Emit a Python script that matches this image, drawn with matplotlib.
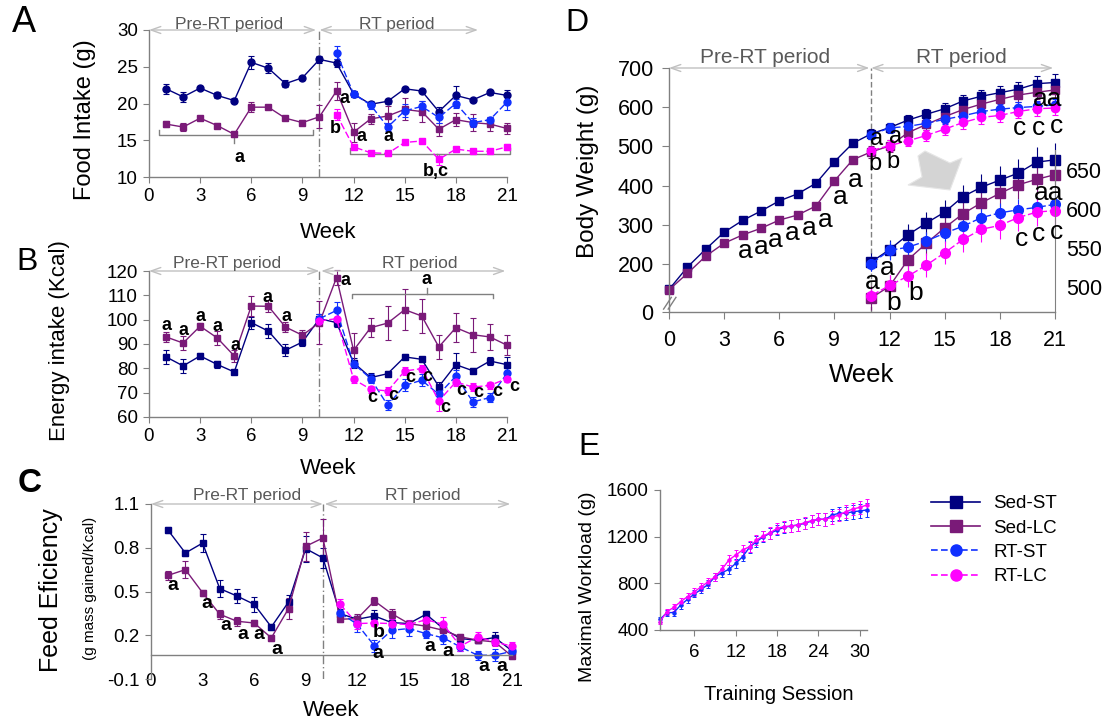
import numpy as np
import matplotlib
matplotlib.use("Agg")
import matplotlib.pyplot as plt
from matplotlib.lines import Line2D
from matplotlib.patches import Polygon

plt.rcParams['font.family'] = ['Liberation Sans', 'DejaVu Sans']

W, H = 1118, 723
NAVY, PURPLE, BLUE, MAGENTA = '#000080', '#7a1a78', '#1030ff', '#ff00ff'
GRID = '#808080'
DASH = (0, (5, 2))

# ---------------- data ----------------
weeks = np.arange(1, 22)
weeks_rt = np.arange(11, 22)
weeks_rt10 = np.arange(10, 22)

# A: food intake (g)
food_sed_st = [22.0, 20.9, 22.1, 21.1, 20.4, 25.6, 24.8, 22.7, 23.5, 26.0, 25.5,
               21.3, 19.9, 20.3, 22.0, 21.7, 18.9, 21.1, 20.5, 21.5, 21.1]
food_sed_st_err = [0.7, 0.7, 0.3, 0.4, 0.3, 0.9, 0.7, 0.5, 0.3, 0.5, 0.6,
                   0.4, 0.3, 0.3, 0.3, 0.3, 0.6, 1.3, 0.3, 0.4, 0.8]
food_sed_lc = [17.2, 16.8, 18.0, 17.0, 15.8, 19.5, 19.5, 18.0, 17.4, 18.2, 21.7,
               16.1, 17.9, 18.3, 19.2, 18.9, 16.5, 17.8, 17.4, 17.2, 16.6]
food_sed_lc_err = [0.4, 0.6, 0.3, 0.4, 0.3, 0.7, 0.3, 0.3, 0.3, 1.6, 1.2,
                   1.3, 0.7, 1.3, 1.5, 1.4, 0.9, 0.9, 1.2, 1.0, 0.8]
food_rt_st = [26.9, 21.3, 19.8, 16.8, 19.0, 19.6, 18.1, 20.0, 17.4, 17.8, 20.2]
food_rt_st_err = [0.9, 0.4, 0.5, 0.5, 0.9, 0.7, 0.8, 0.6, 0.6, 0.4, 1.1]
food_rt_lc = [18.5, 14.1, 13.3, 13.2, 14.7, 14.9, 12.4, 13.8, 13.5, 13.5, 14.1]
food_rt_lc_err = [0.8, 0.3, 0.3, 0.3, 0.3, 0.3, 0.7, 0.3, 0.3, 0.3, 0.4]

# B: energy intake (Kcal)
energy_sed_st = [84.7, 81.0, 85.1, 81.6, 78.5, 98.8, 95.3, 87.4, 90.8, 100.4, 98.8,
                 82.3, 76.2, 77.8, 84.7, 83.7, 72.5, 81.5, 79.0, 83.0, 81.5]
energy_sed_st_err = [3, 3, 1, 1.5, 1, 2.5, 3, 2.5, 1.5, 2, 2,
                     2, 2, 1, 1, 1, 2, 5, 1, 1.5, 3]
energy_sed_lc = [92.9, 90.4, 97.3, 92.5, 85.1, 105.6, 105.5, 97.0, 93.6, 98.8, 117.3,
                 87.4, 96.7, 98.6, 104.1, 101.5, 88.8, 96.7, 93.8, 92.9, 89.5]
energy_sed_lc_err = [2, 3, 1.5, 3, 2.5, 4, 2.5, 2, 2, 9, 3,
                     7, 4, 7, 8.5, 7, 5, 6, 7, 5.5, 4]
energy_rt_st = [100.4, 103.8, 81.9, 75.8, 64.8, 73.0, 75.1, 69.3, 76.8, 66.2, 68.0, 78.0]
energy_rt_st_err = [2, 3.5, 1.5, 2, 2, 2.5, 2.5, 2, 2.5, 2, 2, 2]
energy_rt_lc = [99.5, 100.4, 75.5, 71.4, 70.7, 78.9, 79.9, 66.6, 74.4, 72.3, 73.0, 75.8]
energy_rt_lc_err = [2, 3, 1.5, 1.5, 1.5, 1.5, 1.5, 4, 1.5, 1.5, 1.5, 1.5]

# C: feed efficiency (g mass gained/Kcal)
fe_sed_st = [0.919, 0.764, 0.832, 0.52, 0.469, 0.412, 0.257, 0.428, 0.794, 0.73, 0.348,
             0.31, 0.332, 0.287, 0.28, 0.344, 0.246, 0.177, 0.166, 0.184, 0.093]
fe_sed_st_err = [0.02, 0.02, 0.06, 0.06, 0.05, 0.05, 0.02, 0.05, 0.09, 0.07, 0.03,
                 0.02, 0.04, 0.03, 0.02, 0.02, 0.02, 0.02, 0.02, 0.04, 0.03]
fe_sed_lc = [0.611, 0.65, 0.492, 0.344, 0.296, 0.284, 0.182, 0.383, 0.81, 0.867, 0.31,
             0.314, 0.435, 0.348, 0.28, 0.262, 0.234, 0.189, 0.166, 0.154, 0.056]
fe_sed_lc_err = [0.03, 0.06, 0.02, 0.03, 0.03, 0.02, 0.02, 0.07, 0.1, 0.13, 0.02,
                 0.03, 0.03, 0.03, 0.02, 0.02, 0.03, 0.02, 0.02, 0.02, 0.02]
fe_rt_st = [0.353, 0.275, 0.127, 0.234, 0.246, 0.211, 0.182, 0.12, 0.063, 0.063, 0.09]
fe_rt_st_err = [0.04, 0.05, 0.04, 0.05, 0.05, 0.03, 0.04, 0.03, 0.03, 0.04, 0.03]
fe_rt_lc = [0.412, 0.28, 0.284, 0.28, 0.273, 0.307, 0.275, 0.125, 0.189, 0.154, 0.125]
fe_rt_lc_err = [0.04, 0.04, 0.02, 0.03, 0.03, 0.04, 0.05, 0.03, 0.03, 0.03, 0.03]

# D: body weight (g)
bw_weeks = np.arange(0, 22)
bw_sed_st = [135, 192, 238, 281, 311, 335, 361, 379, 406, 461, 508,
             532, 548, 567, 582, 596, 616, 628, 637, 646, 660, 663]
bw_sed_st_err = [5, 5, 5, 5, 5, 5, 5, 5, 5, 6, 6,
                 12, 12, 14, 14, 15, 15, 17, 18, 18, 20, 22]
bw_sed_lc = [134, 176, 220, 253, 274, 291, 312, 325, 348, 412, 466,
             486, 501, 535, 556, 576, 594, 608, 620, 631, 638, 644]
bw_sed_lc_err = [5, 5, 5, 5, 5, 5, 5, 5, 5, 8, 8,
                 15, 15, 15, 15, 15, 15, 17, 18, 18, 18, 20]
bw_rt_st = [530, 547, 551, 559, 569, 578, 589, 595, 599, 602, 606]
bw_rt_st_err = [10, 12, 12, 12, 12, 12, 13, 13, 14, 14, 15]
bw_rt_lc = [489, 502, 514, 528, 544, 561, 574, 579, 589, 596, 598]
bw_rt_lc_err = [10, 14, 14, 15, 15, 16, 16, 17, 17, 18, 18]

# E: maximal workload (g)
sessions = np.arange(1, 32)
work_rt_st = [491, 549, 549, 614, 663, 709, 749, 791, 857, 891, 920, 971, 1029, 1109, 1157, 1200,
              1229, 1257, 1280, 1291, 1300, 1314, 1334, 1349, 1349, 1386, 1400, 1400, 1414, 1420, 1429]
work_rt_st_err = [20, 25, 30, 30, 30, 30, 30, 35, 35, 35, 40, 40, 40, 45, 45, 45,
                  45, 45, 50, 50, 50, 50, 50, 50, 55, 55, 55, 55, 60, 60, 60]
work_rt_lc = [471, 557, 594, 643, 686, 729, 771, 814, 857, 920, 1000, 1043, 1086, 1114, 1171, 1206,
              1234, 1271, 1286, 1291, 1300, 1320, 1337, 1349, 1349, 1366, 1386, 1414, 1437, 1451, 1471]
work_rt_lc_err = [20, 25, 30, 30, 30, 35, 35, 35, 35, 40, 40, 40, 40, 45, 45, 45,
                  50, 50, 50, 50, 50, 50, 50, 50, 55, 55, 55, 55, 55, 55, 55]

groups = ['Sed-ST', 'Sed-LC', 'RT-ST', 'RT-LC']


# ---------------- helpers ----------------
def px_axes(l, t, r, b):
    return fig.add_axes([l / W, 1 - b / H, (r - l) / W, (b - t) / H])


def series(ax, x, y, err, color, marker, ls='-', ms=5, cap=2.0, elw=0.8):
    c = ax.errorbar(x, y, yerr=err, color=color, marker=marker, ms=ms, lw=1.0,
                    ls=ls, mec=color, mfc=color, capsize=cap, elinewidth=elw,
                    capthick=elw)
    for art in c.get_children():
        art.set_clip_on(False)


def style(ax, xlim, ylim, yticks, fs=13.5):
    ax.set_xlim(*xlim)
    ax.set_ylim(*ylim)
    ax.set_yticks(yticks)
    for s in ['top', 'right']:
        ax.spines[s].set_visible(False)
    for s in ['left', 'bottom']:
        ax.spines[s].set_color(GRID)
        ax.spines[s].set_linewidth(1.0)
    ax.tick_params(direction='out', length=4, color=GRID, labelsize=fs, pad=4)
    ax.patch.set_alpha(0)


def periods(ax, y, ytxt, pre, rt, fs=12.5):
    for (x0, x1, xt, txt) in (pre, rt):
        ax.annotate('', xy=(x1, y), xytext=(x0, y), annotation_clip=False,
                    arrowprops=dict(arrowstyle='<->,head_length=0.7,head_width=0.25',
                                    color='#c0c0c0', lw=1.0, shrinkA=0, shrinkB=0))
        ax.text(xt, ytxt, txt, ha='center', va='center', color='#595959', fontsize=fs)


def letters(ax, items, fs=13, weight='bold'):
    for (x, y, t) in items:
        ax.text(x, y, t, ha='center', va='center', fontsize=fs, fontweight=weight,
                clip_on=False)


def bracket(ax, x0, x1, y, yend, xm, ymid):
    ax.plot([x0, x0, x1, x1], [yend, y, y, yend], color=GRID, lw=1.0, clip_on=False)
    ax.plot([xm, xm], [y, ymid], color=GRID, lw=1.0, clip_on=False)


fig = plt.figure(figsize=(W / 100, H / 100), dpi=100)

# ---------------- A ----------------
axA = px_axes(149, 30, 507, 177)
style(axA, (0, 21), (10, 30), [10, 15, 20, 25, 30])
axA.set_xticks(range(0, 22, 3))
axA.axvline(10, color=GRID, lw=1.0, ls=(0, (6, 2, 1, 2)))
series(axA, weeks, food_sed_st, food_sed_st_err, NAVY, 'o')
series(axA, weeks, food_sed_lc, food_sed_lc_err, PURPLE, 's')
series(axA, weeks_rt, food_rt_st, food_rt_st_err, BLUE, 'o', DASH)
series(axA, weeks_rt, food_rt_lc, food_rt_lc_err, MAGENTA, 's', DASH)
periods(axA, 30, 30.8, (0, 9.8, 4.7, 'Pre-RT period'), (10, 19.3, 14.55, 'RT period'))
bracket(axA, 0.6, 9.6, 15.7, 16.4, 5.0, 14.6)
bracket(axA, 11.8, 21.2, 13.1, 13.9, 16.9, 12.3)
letters(axA, [(5.3, 12.7, 'a'), (16.8, 10.7, 'b,c'), (11.45, 20.7, 'a'), (10.95, 16.6, 'b'),
              (12.45, 15.5, 'a'), (14.05, 15.5, 'a')])

# ---------------- B ----------------
axB = px_axes(149, 271, 507, 417)
style(axB, (0, 21), (60, 120), range(60, 121, 10))
axB.set_xticks(range(0, 22, 3))
axB.axvline(10, color=GRID, lw=1.0, ls=(0, (6, 2, 1, 2)))
series(axB, weeks, energy_sed_st, energy_sed_st_err, NAVY, 's')
series(axB, weeks, energy_sed_lc, energy_sed_lc_err, PURPLE, 's')
series(axB, weeks_rt10, energy_rt_st, energy_rt_st_err, BLUE, 'o', DASH)
series(axB, weeks_rt10, energy_rt_lc, energy_rt_lc_err, MAGENTA, 'o', DASH)
periods(axB, 120, 122.9, (0, 10.0, 4.6, 'Pre-RT period'), (10.1, 20.9, 15.9, 'RT period'))
bracket(axB, 11.9, 20.2, 110.4, 109.0, 16.3, 113.2)
letters(axB, [(1.05, 97.7, 'a'), (2.05, 95.6, 'a'), (3.0, 101.1, 'a'), (4.0, 97.3, 'a'),
              (5.07, 89.5, 'a'), (6.98, 109.3, 'a'), (8.05, 101.1, 'a'), (11.5, 116.2, 'a'),
              (16.3, 116.4, 'a'),
              (13.1, 68.2, 'c'), (14.3, 68.9, 'c'), (15.3, 76.4, 'c'), (16.3, 76.7, 'c'),
              (17.4, 64.1, 'c'), (18.3, 71.0, 'c'), (19.3, 69.9, 'c'), (20.4, 70.3, 'c'),
              (21.4, 72.6, 'c')])

# ---------------- C ----------------
axC = px_axes(151, 504, 512, 679)
style(axC, (0, 21), (-0.1, 1.1), [-0.1, 0.2, 0.5, 0.8, 1.1])
axC.set_yticklabels(['-0.1', '0.2', '0.5', '0.8', '1.1'])
axC.set_xticks(range(0, 22, 3))
axC.spines['bottom'].set_position(('data', 0.063))
axC.tick_params(axis='x', length=0, pad=13)
axC.axvline(10, color=GRID, lw=1.0, ls=(0, (6, 2, 1, 2)))
series(axC, weeks, fe_sed_st, fe_sed_st_err, NAVY, 's')
series(axC, weeks, fe_sed_lc, fe_sed_lc_err, PURPLE, 's')
series(axC, weeks_rt, fe_rt_st, fe_rt_st_err, BLUE, 'o', DASH)
series(axC, weeks_rt, fe_rt_lc, fe_rt_lc_err, MAGENTA, 'o', DASH)
periods(axC, 1.1, 1.16, (0, 10.0, 5.6, 'Pre-RT period'), (10.1, 20.9, 15.8, 'RT period'))
letters(axC, [(1.26, 0.542, 'a'), (3.22, 0.417, 'a'), (4.36, 0.268, 'a'), (5.32, 0.207, 'a'),
              (6.26, 0.207, 'a'), (7.32, 0.104, 'a'), (13.2, 0.074, 'a'), (13.26, 0.216, 'b'),
              (16.2, 0.12, 'a'), (17.26, 0.086, 'a'), (19.36, -0.012, 'a'), (20.4, -0.012, 'a')],
        fs=14)

# ---------------- D ----------------
axD = px_axes(669, 68, 1055, 312)
d_ticks = [77.5, 200, 300, 400, 500, 600, 700]
style(axD, (0, 21), (77.5, 700), d_ticks, fs=15.5)
axD.set_yticklabels(['0', '200', '300', '400', '500', '600', '700'])
axD.set_xticks(range(0, 22, 3))
axD.tick_params(length=5, pad=6)
axD.tick_params(axis='x', pad=8)
axD.axvline(11, color=GRID, lw=1.0, ls=(0, (4, 2)))
series(axD, bw_weeks, bw_sed_st, bw_sed_st_err, NAVY, 's', ms=6)
series(axD, bw_weeks, bw_sed_lc, bw_sed_lc_err, PURPLE, 's', ms=6)
series(axD, weeks_rt, bw_rt_st, bw_rt_st_err, BLUE, 'o', (0, (6, 2)), ms=6)
series(axD, weeks_rt, bw_rt_lc, bw_rt_lc_err, MAGENTA, 'o', (0, (6, 2)), ms=6)
periods(axD, 700, 726, (0, 10.9, 5.2, 'Pre-RT period'), (11.0, 20.9, 15.9, 'RT period'), fs=15)
for dx in (0.0, 0.012):
    axD.plot([-0.014 + dx, 0.006 + dx], [0.012, 0.06], transform=axD.transAxes,
             color=GRID, lw=1.0, clip_on=False)
letters(axD, [(4.16, 232, 'a'), (5.0, 244, 'a'), (5.8, 260, 'a'), (6.68, 278, 'a'),
              (7.64, 293, 'a'), (8.48, 311, 'a'), (9.29, 372, 'a'), (10.12, 414, 'a'),
              (20.6, 620, 'aa'), (19.06, 547, 'c'), (20.1, 547, 'c'), (21.1, 551, 'c')],
        fs=19, weight='normal')
letters(axD, [(11.3, 519, 'a'), (12.35, 525, 'a'), (11.2, 456, 'b'), (12.2, 460, 'b')],
        fs=17, weight='normal')

# inset of the RT period
axI = px_axes(669, 150, 1055, 312)
axI.set_xlim(0, 21)
axI.set_ylim(468, 675.6)
axI.patch.set_alpha(0)
for s in ['top', 'left', 'bottom']:
    axI.spines[s].set_visible(False)
axI.spines['right'].set_color(GRID)
axI.spines['right'].set_position(('data', 21))
axI.set_xticks([])
axI.yaxis.tick_right()
axI.set_yticks([500, 550, 600, 650])
axI.tick_params(axis='y', length=0, pad=8, labelsize=15.5)
series(axI, weeks_rt, bw_sed_st[11:], bw_sed_st_err[11:], NAVY, 's', ms=6.5, cap=0)
series(axI, weeks_rt, bw_sed_lc[11:], bw_sed_lc_err[11:], PURPLE, 's', ms=6.5, cap=0)
series(axI, weeks_rt, bw_rt_st, bw_rt_st_err, BLUE, 'o', (0, (6, 2)), ms=7, cap=0)
series(axI, weeks_rt, bw_rt_lc, bw_rt_lc_err, MAGENTA, 'o', (0, (6, 2)), ms=7, cap=0)
letters(axI, [(11.04, 507, 'a'), (11.85, 524, 'a'), (12.2, 479, 'b'), (13.4, 492, 'b'),
              (19.2, 561, 'c'), (20.1, 568, 'c'), (21.1, 570, 'c'), (20.64, 620, 'aa')],
        fs=19, weight='normal')

# grey pointer from main curves to inset
arrow_px = [(925, 151), (950, 163), (962, 158), (950, 190), (908, 185), (922, 177), (918, 156)]
fig.patches.append(Polygon([(x / W, 1 - y / H) for x, y in arrow_px], closed=True,
                           transform=fig.transFigure, facecolor='#d4d4d4',
                           edgecolor='#e6e6e6', lw=0.8))

# ---------------- E ----------------
axE = px_axes(660, 490, 867, 630)
style(axE, (1, 31.05), (400, 1600), [400, 800, 1200, 1600], fs=13.5)
axE.set_xticks([6, 12, 18, 24, 30])
axE.tick_params(axis='x', pad=6)
series(axE, sessions, work_rt_st, work_rt_st_err, BLUE, 'o', ms=2.2, cap=1.2, elw=0.7)
series(axE, sessions, work_rt_lc, work_rt_lc_err, MAGENTA, 'o', ms=2.2, cap=1.2, elw=0.7)

handles = [Line2D([], [], color=NAVY, marker='s', ms=8, lw=1.2),
           Line2D([], [], color=PURPLE, marker='s', ms=8, lw=1.2),
           Line2D([], [], color=BLUE, marker='o', ms=8, lw=1.2, ls=(0, (4, 2))),
           Line2D([], [], color=MAGENTA, marker='o', ms=8, lw=1.2, ls=(0, (4, 2)))]
fig.legend(handles, groups, loc='upper left', bbox_to_anchor=(922 / W, 1 - 486 / H),
           frameon=False, fontsize=13.5, handlelength=2.6, labelspacing=0.38,
           handletextpad=0.7, borderpad=0)

# ---------------- axis titles & panel letters ----------------
def ftext(x, y, s, fs, rot=0, **kw):
    fig.text(x / W, 1 - y / H, s, fontsize=fs, rotation=rot, ha='center', va='center', **kw)


ftext(85, 120, 'Food Intake (g)', 17, 90)
ftext(60, 341, 'Energy intake (Kcal)', 16, 90)
ftext(51, 590, 'Feed Eficiency', 18, 90)
ftext(90, 588, '(g mass gained/Kcal)', 11, 90)
ftext(588, 171, 'Body Weight (g)', 17.5, 90)
ftext(587, 587, 'Maximal Workload (g)', 14, 90)
ftext(328, 232, 'Week', 16)
ftext(328, 468, 'Week', 16)
ftext(331, 710, 'Week', 16)
ftext(862, 375, 'Week', 18.5)
ftext(779, 695, 'Training Session', 14.5)

ftext(24, 22, 'A', 26)
ftext(27, 262, 'B', 23)
ftext(30, 483, 'C', 24, fontweight='bold')
ftext(577, 23, 'D', 23)
ftext(589, 447, 'E', 23)

fig.savefig('out.png', dpi=100)
